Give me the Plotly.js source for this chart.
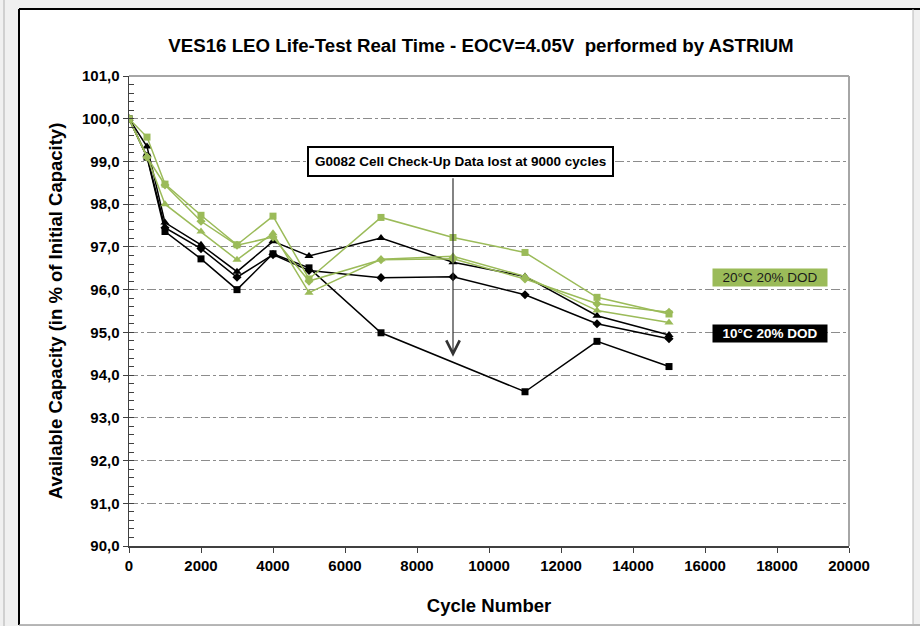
<!DOCTYPE html>
<html>
<head>
<meta charset="utf-8">
<script src="https://cdn.plot.ly/plotly-3.0.1.min.js"></script>
<style>html,body{margin:0;padding:0;background:#fff;}#chart{width:920px;height:626px;}</style>
</head>
<body>
<div id="chart"></div>
<script>
// ---- data ----
var cycles = [0, 500, 1000, 2000, 3000, 4000, 5000, 7000, 9000, 11000, 13000, 15000];

var black10Square   = [100.0, 99.10, 97.36, 96.72, 96.00, 96.84, 96.51, 94.99, null, 93.61, 94.79, 94.20];
var black10Triangle = [100.0, 99.35, 97.57, 97.05, 96.42, 97.13, 96.79, 97.21, 96.64, 96.31, 95.39, 94.94];
var black10Diamond  = [100.0, 99.12, 97.45, 96.96, 96.29, 96.82, 96.45, 96.28, 96.30, 95.88, 95.20, 94.85];

var green20Square   = [100.0, 99.57, 98.47, 97.74, 97.05, 97.72, 96.25, 97.69, 97.22, 96.87, 95.82, 95.43];
var green20Triangle = [100.0, 99.12, 98.00, 97.36, 96.70, 97.32, 95.93, 96.71, 96.78, 96.31, 95.51, 95.23];
var green20Diamond  = [100.0, 99.10, 98.45, 97.60, 97.04, 97.23, 96.20, 96.70, 96.72, 96.25, 95.67, 95.47];

var yTickVals = [90, 91, 92, 93, 94, 95, 96, 97, 98, 99, 100, 101];
var yTickText = ["90,0", "91,0", "92,0", "93,0", "94,0", "95,0", "96,0", "97,0", "98,0", "99,0", "100,0", "101,0"];
var xTickVals = [0, 2000, 4000, 6000, 8000, 10000, 12000, 14000, 16000, 18000, 20000];
var xTickText = ["0", "2000", "4000", "6000", "8000", "10000", "12000", "14000", "16000", "18000", "20000"];

var titleText = "VES16 LEO Life-Test Real Time - EOCV=4.05V  performed by ASTRIUM";
var xTitle = "Cycle Number";
var yTitle = "Available Capacity (in % of Initial Capacity)";
var noteText = "G0082 Cell Check-Up Data lost at 9000 cycles";
var noteCycle = 9000;
var legendGreen = "20°C 20% DOD";
var legendBlack = "10°C 20% DOD";

// ---- styling ----
var GREEN = "#9bbb59";
var BLACK = "#000000";
var FONT = "Liberation Sans, Arial, sans-serif";

function tr(y, color, symbol, size) {
  return {
    x: cycles, y: y, type: "scatter", mode: "lines+markers",
    connectgaps: true, showlegend: false, hoverinfo: "skip",
    line: {color: color, width: 1.5},
    marker: {color: color, symbol: symbol, size: size}
  };
}

var data = [
  tr(black10Square, BLACK, "square", 7),
  tr(black10Triangle, BLACK, "triangle-up", 8),
  tr(black10Diamond, BLACK, "diamond", 7),
  tr(green20Diamond, GREEN, "diamond", 7),
  tr(green20Triangle, GREEN, "triangle-up", 8),
  tr(green20Square, GREEN, "square", 7)
];

// plot area in px: left 129, right 849, top 76, bottom 546
var L = 129, R = 849, T = 76, B = 546;
function px(x) { return (x - L) / (R - L); }
function py(y) { return (B - y) / (B - T); }

var layout = {
  width: 920, height: 626,
  margin: {l: L, r: 920 - R, t: T, b: 626 - B, pad: 0},
  paper_bgcolor: "#f0f0f0",
  plot_bgcolor: "rgba(0,0,0,0)",
  font: {family: FONT, color: "#000"},
  title: {
    text: titleText, font: {family: FONT, size: 18.7, color: "#000", weight: "bold"},
    x: px(481), xanchor: "center", xref: "paper",
    y: 1 - 45 / 626, yanchor: "middle", yref: "container"
  },
  xaxis: {
    range: [0, 20000], autorange: false,
    tickvals: xTickVals, ticktext: xTickText,
    tickfont: {family: FONT, size: 15, color: "#000", weight: "bold"},
    ticks: "outside", ticklen: 5, tickcolor: "#404040", tickwidth: 1,
    showline: true, linecolor: "#404040", linewidth: 1.5,
    showgrid: false, zeroline: false,
    title: {text: xTitle, font: {family: FONT, size: 18.5, color: "#000", weight: "bold"}, standoff: 26}
  },
  yaxis: {
    range: [90, 101], autorange: false,
    tickvals: yTickVals, ticktext: yTickText,
    tickfont: {family: FONT, size: 15, color: "#000", weight: "bold"},
    ticks: "outside", ticklen: 5, tickcolor: "#404040", tickwidth: 1,
    minor: {dtick: 0.2, tick0: 90, ticks: "inside", ticklen: 5, tickcolor: "#404040", tickwidth: 1, showgrid: false},
    showline: true, linecolor: "#404040", linewidth: 1.5,
    showgrid: true, gridcolor: "#8c8c8c", gridwidth: 1, griddash: "dashdot",
    zeroline: false,
    title: {text: yTitle, font: {family: FONT, size: 18.5, color: "#000", weight: "bold"}, standoff: 14}
  },
  shapes: [
    // white chart area
    {type: "rect", xref: "paper", yref: "paper", layer: "below",
     x0: px(19), x1: px(913), y0: py(625), y1: py(9),
     fillcolor: "#ffffff", line: {width: 0}},
    // left and top dark border of chart area
    {type: "line", xref: "paper", yref: "paper", x0: px(19), x1: px(19), y0: py(625), y1: py(9), line: {color: "#000", width: 2}},
    {type: "line", xref: "paper", yref: "paper", x0: px(19), x1: px(920), y0: py(9), y1: py(9), line: {color: "#000", width: 2}},
    // bottom gray edge
    {type: "line", xref: "paper", yref: "paper", x0: px(19), x1: px(920), y0: py(625), y1: py(625), line: {color: "#a0a0a0", width: 1.5}},
    // right gray edge
    {type: "line", xref: "paper", yref: "paper", x0: px(913), x1: px(913), y0: py(625), y1: py(9), line: {color: "#b8b8b8", width: 1}},
    // left outer thin line
    {type: "line", xref: "paper", yref: "paper", x0: px(4), x1: px(4), y0: py(626), y1: py(0), line: {color: "#b0b0b0", width: 1}},
    // plot area top and right gray borders
    {type: "line", xref: "paper", yref: "paper", x0: 0, x1: 1, y0: 1, y1: 1, line: {color: "#a6a6a6", width: 2}},
    {type: "line", xref: "paper", yref: "paper", x0: 1, x1: 1, y0: 0, y1: 1, line: {color: "#a6a6a6", width: 2}}
  ],
  annotations: [
    {x: noteCycle, y: 94.43, xref: "x", yref: "y", ax: noteCycle, ay: 98.64, axref: "x", ayref: "y",
     text: "", showarrow: true, arrowhead: 5, arrowsize: 2.2, arrowwidth: 1.2, arrowcolor: "#333"},
    {x: px(460), y: py(161), xref: "paper", yref: "paper", xanchor: "center", yanchor: "middle",
     text: "<b>" + noteText + "</b>", showarrow: false,
     font: {family: FONT, size: 13.5, color: "#000"},
     bgcolor: "#ffffff", bordercolor: "#000", borderwidth: 2, borderpad: 6},
    {x: px(770), y: py(277), xref: "paper", yref: "paper", xanchor: "center", yanchor: "middle",
     text: legendGreen, showarrow: false, width: 112,
     font: {family: FONT, size: 13.5, color: "#1a1a1a"},
     bgcolor: GREEN, borderpad: 1},
    {x: px(770), y: py(333), xref: "paper", yref: "paper", xanchor: "center", yanchor: "middle",
     text: "<b>" + legendBlack + "</b>", showarrow: false, width: 112,
     font: {family: FONT, size: 13.5, color: "#ffffff"},
     bgcolor: "#000000", borderpad: 1}
  ]
};

Plotly.newPlot("chart", data, layout, {displayModeBar: false, staticPlot: true});
</script>
</body>
</html>
